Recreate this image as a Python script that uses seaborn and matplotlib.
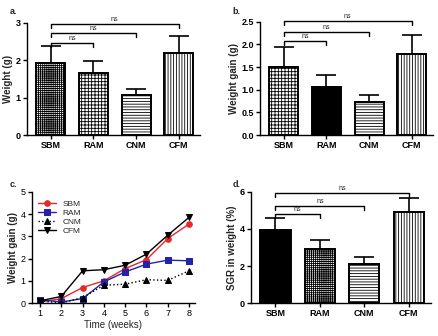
import matplotlib
matplotlib.use("Agg")
import matplotlib.pyplot as plt
import seaborn as sns
import numpy as np
import pandas as pd

sns.set_theme(style="ticks")
plt.rcParams['font.family'] = ['Liberation Sans', 'DejaVu Sans']
plt.rcParams['hatch.linewidth'] = 0.6

groups = ["SBM", "RAM", "CNM", "CFM"]

# panel a: weight
weight_mean = [1.92, 1.65, 1.08, 2.20]
weight_err = [0.45, 0.34, 0.16, 0.45]
# panel b: weight gain
gain_mean = [1.50, 1.07, 0.73, 1.78]
gain_err = [0.44, 0.26, 0.16, 0.44]
# panel d: SGR
sgr_mean = [3.95, 2.92, 2.12, 4.92]
sgr_err = [0.65, 0.50, 0.35, 0.73]

# panel c: weekly weight gain
weeks = [1, 2, 3, 4, 5, 6, 7, 8]
c_sbm = [0.05, 0.20, 0.70, 1.00, 1.55, 1.95, 2.90, 3.55]
c_ram = [0.15, 0.05, 0.20, 0.95, 1.40, 1.75, 1.93, 1.90]
c_cnm = [0.10, 0.00, 0.25, 0.80, 0.85, 1.05, 1.02, 1.45]
c_cfm = [0.10, 0.30, 1.45, 1.50, 1.70, 2.20, 3.05, 3.85]

# brackets (ns) heights: SBM-RAM, SBM-CNM, SBM-CFM
br_a = [2.47, 2.73, 2.97]
br_b = [2.08, 2.27, 2.52]
br_d = [4.80, 5.24, 5.95]

fig = plt.figure(figsize=(4.38, 3.36), dpi=100)
axa = fig.add_axes([0.062, 0.598, 0.395, 0.334])
axb = fig.add_axes([0.594, 0.598, 0.395, 0.337])
axc = fig.add_axes([0.073, 0.098, 0.372, 0.331])
axd = fig.add_axes([0.573, 0.098, 0.411, 0.331])

FS = 6.5


def style_ax(ax):
    sns.despine(ax=ax)
    for s in ['left', 'bottom']:
        ax.spines[s].set_linewidth(1.0)
        ax.spines[s].set_color('black')
    ax.tick_params(axis='both', length=3, width=1.0, labelsize=FS, pad=1.5, colors='black')
    for lab in ax.get_xticklabels() + ax.get_yticklabels():
        lab.set_fontweight('bold')


def bar_panel(ax, means, errs, hatches, fills, ylim, yticks, ylabel, brackets, ticklabels):
    df = pd.DataFrame({"group": groups, "val": means})
    sns.barplot(data=df, x="group", y="val", ax=ax, order=groups, width=0.68,
                errorbar=None, color='white', edgecolor='black', linewidth=1.4)
    for p, h, f in zip(ax.patches, hatches, fills):
        p.set_facecolor(f)
        p.set_edgecolor('black')
        if h:
            p.set_hatch(h)
    x = np.arange(len(groups))
    ax.errorbar(x, means, yerr=[np.zeros(len(errs)), errs], fmt='none',
                ecolor='black', elinewidth=1.2, capsize=7, capthick=1.2, zorder=1)
    ax.set_xlim(-0.55, 3.5)
    ax.set_ylim(*ylim)
    ax.set_yticks(yticks)
    ax.set_yticklabels(ticklabels)
    ax.set_xlabel("")
    ax.set_ylabel(ylabel, fontsize=FS + 0.5, fontweight='bold', labelpad=2)
    tick = (ylim[1] - ylim[0]) * 0.035
    for j, h in zip([1, 2, 3], brackets):
        ax.plot([0, 0, j, j], [h - tick, h, h, h - tick], color='black', lw=1.0, clip_on=False)
        ax.text(j / 2, h + tick * 0.2, "ns", ha='center', va='bottom', fontsize=5, clip_on=False)
    style_ax(ax)


bar_panel(axa, weight_mean, weight_err, ['++++++++', '+++++', '------', '||||||'],
          ['white', 'white', 'white', 'white'], (0, 3), [0, 1, 2, 3], "Weight (g)", br_a,
          ['0', '1', '2', '3'])
bar_panel(axb, gain_mean, gain_err, ['+++++', None, '------', '||||||'],
          ['white', 'black', 'white', 'white'], (0, 2.5), [0, 0.5, 1.0, 1.5, 2.0, 2.5],
          "Weight gain (g)", br_b, ['0.0', '0.5', '1.0', '1.5', '2.0', '2.5'])
bar_panel(axd, sgr_mean, sgr_err, [None, '++++++++', '------', '||||||'],
          ['black', 'white', 'white', 'white'], (0, 6), [0, 2, 4, 6],
          "SGR in weight (%)", br_d, ['0', '2', '4', '6'])

# panel c
series = [("SBM", c_sbm, '#e8262b', 'o', '-'),
          ("RAM", c_ram, '#2222aa', 's', '-'),
          ("CNM", c_cnm, 'black', '^', ':'),
          ("CFM", c_cfm, 'black', 'v', '-')]
for name, vals, col, mk, ls in series:
    sns.lineplot(x=weeks, y=vals, ax=axc, color=col, marker=mk, linestyle=ls,
                 markersize=4, linewidth=1.0, markeredgecolor=col, label=name)
axc.set_xlim(0.62, 8.28)
axc.set_ylim(0, 5)
axc.set_xticks(weeks)
axc.set_yticks([0, 1, 2, 3, 4, 5])
axc.set_xlabel("Time (weeks)", fontsize=FS + 0.5, labelpad=1)
axc.set_ylabel("Weight gain (g)", fontsize=FS + 0.5, fontweight='bold', labelpad=2)
leg = axc.legend(loc='upper left', bbox_to_anchor=(0.0, 0.98), frameon=False, fontsize=FS - 0.5,
                 handlelength=2.2, labelspacing=0.15, borderaxespad=0.3, handletextpad=0.8)
style_ax(axc)
for lab in axc.get_xticklabels() + axc.get_yticklabels():
    lab.set_fontweight('normal')

# panel labels
fig.text(0.023, 0.98, "a.", fontsize=6.5, fontweight='bold', va='top')
fig.text(0.53, 0.98, "b.", fontsize=6.5, fontweight='bold', va='top')
fig.text(0.023, 0.465, "c.", fontsize=6.5, fontweight='bold', va='top')
fig.text(0.53, 0.465, "d.", fontsize=6.5, fontweight='bold', va='top')

fig.savefig("out.png", dpi=100, facecolor='white')
